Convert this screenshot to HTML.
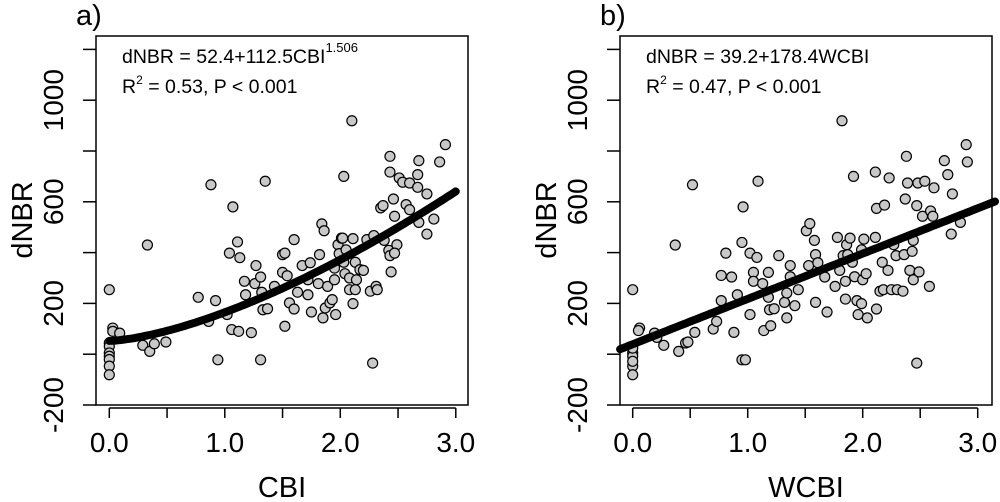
<!DOCTYPE html>
<html><head><meta charset="utf-8"><style>
html,body{margin:0;padding:0;background:#fff}
svg{display:block;font-family:"Liberation Sans",Arial,sans-serif}
</style></head><body>
<svg id="chart" width="1000" height="502"></svg>
<script>
const xTicksA=[0,0.5,1,1.5,2,2.5,3];
const xTickLabels=["0.0","1.0","2.0","3.0"];
const xTickLabelVals=[0,1,2,3];
const yTicks=[-200,0,200,400,600,800,1000,1200];
const yTickLabelVals=[-200,200,600,1000];
const cbiX=[0,0,0,0,0,0,0,0,0.03,0.03,0.09,0.29,0.35,0.39,0.49,0.33,0.77,0.88,0.92,0.86,0.94,1.02,1.06,1.12,1.04,1.11,1.13,1.07,1.23,1.17,1.18,1.27,1.26,1.31,1.32,1.33,1.37,1.35,1.31,1.43,1.50,1.52,1.50,1.54,1.56,1.52,1.60,1.60,1.63,1.67,1.72,1.74,1.72,1.75,1.81,1.82,1.84,1.86,1.85,1.87,1.89,1.91,1.93,1.95,1.96,1.95,1.98,1.99,2.01,2.03,2.03,2.02,2.05,2.04,2.08,2.08,2.10,2.11,2.13,2.11,2.13,2.14,2.17,2.20,2.23,2.26,2.28,2.31,2.32,2.29,2.35,2.37,2.38,2.42,2.43,2.44,2.43,2.43,2.46,2.47,2.49,2.47,2.51,2.54,2.60,2.57,2.60,2.67,2.67,2.68,2.68,2.75,2.75,2.81,2.86,2.91];
const cbiY=[44,31,5,-8,-21,-47,-81,254,103,90,83,35,11,41,48,430,224,667,211,129,-22,156,97,90,398,442,380,580,85,287,234,349,278,304,244,175,179,681,-22,267,392,398,322,309,202,110,178,451,244,349,234,360,293,166,278,392,513,486,143,182,267,202,215,293,156,339,431,396,457,700,362,457,411,317,300,254,919,455,362,199,254,293,333,330,451,248,-35,267,254,467,576,585,448,409,388,324,779,717,611,543,431,398,694,677,674,589,569,707,657,762,519,631,473,532,757,825];
const wcbiX=[0,0,0,0,0,0,0,0.06,0.05,0.19,0.21,0.27,0.37,0.40,0.46,0.48,0.54,0.52,0.70,0.73,0.77,0.77,0.81,0.86,0.88,0.91,0.95,0.96,0.95,0.98,1.02,1.02,1.05,1.05,1.08,1.09,1.13,1.14,1.18,1.18,1.19,1.20,1.23,1.27,1.32,1.34,1.34,1.37,1.37,1.41,1.44,1.51,1.54,1.53,1.58,1.59,1.59,1.61,1.67,1.69,1.76,1.78,1.80,1.82,1.83,1.85,1.85,1.86,1.87,1.89,1.91,1.92,1.93,1.95,1.96,1.99,2.00,1.99,2.01,2.03,2.04,2.11,2.11,2.12,2.12,2.15,2.17,2.18,2.19,2.22,2.23,2.25,2.27,2.29,2.30,2.35,2.36,2.37,2.38,2.39,2.41,2.43,2.44,2.44,2.47,2.47,2.48,2.49,2.52,2.54,2.58,2.59,2.61,2.62,2.71,2.74,2.77,2.78,2.85,2.90,2.91];
const wcbiY=[5,-8,-47,-81,24,-28,254,103,93,83,66,35,430,11,44,48,86,667,99,129,211,310,398,304,86,234,440,580,-22,-22,398,156,322,287,381,681,278,93,322,224,175,112,179,388,204,241,143,349,305,191,254,486,514,349,448,204,392,360,304,166,267,460,330,919,388,287,217,431,392,457,362,700,305,211,156,199,293,411,453,317,143,717,460,574,178,248,362,254,587,330,694,254,431,388,254,248,392,611,779,674,330,405,448,293,585,-35,674,324,543,681,267,564,543,655,762,707,473,631,519,825,757];
const fitA=[52.4,112.5,1.506];
const fitB=[39.2,178.4];

const NS="http://www.w3.org/2000/svg";
const svg=document.getElementById('chart');
function mk(tag,attrs,parent,text){const e=document.createElementNS(NS,tag);for(const k in attrs)e.setAttribute(k,attrs[k]);if(text!==undefined)e.textContent=text;(parent||svg).appendChild(e);return e;}
const yS=v=>405-(v+200)*0.254;

function panel(p){
  const xS=v=>p.x0+v*p.ppu;
  const g=mk('g',{});
  
  
  const box=mk('rect',{x:p.left,y:36,width:p.right-p.left,height:369,fill:'none',stroke:'#000','stroke-width':1.5},g);
  
  const xa=mk('g',{},g);
  mk('line',{x1:xS(0),x2:xS(3),y1:408,y2:408,stroke:'#000','stroke-width':1.5},xa);
  xTicksA.forEach(v=>mk('line',{x1:xS(v),x2:xS(v),y1:408,y2:418,stroke:'#000','stroke-width':1.5},xa));
  xTickLabelVals.forEach((v,i)=>{const t=mk('text',{x:xS(v),y:452,'text-anchor':'middle','font-size':28},xa,xTickLabels[i]);});
  const ya=mk('g',{},g);
  yTicks.forEach(v=>mk('line',{x1:p.left-13,x2:p.left,y1:yS(v),y2:yS(v),stroke:'#000','stroke-width':1.5},ya));
  yTickLabelVals.forEach(v=>{const cx=p.left-33,cy=yS(v);const t=mk('text',{x:cx,y:cy,'text-anchor':'middle','font-size':28,transform:`rotate(-90 ${cx} ${cy})`},ya,String(v));});
  const yl=mk('text',{x:p.left-64,y:220,'text-anchor':'middle','font-size':29,transform:`rotate(-90 ${p.left-64} 220)`},g,'dNBR');
  
  const xl=mk('text',{x:(p.left+p.right)/2,y:497,'text-anchor':'middle','font-size':29},g,p.xlabel);
  
  const pl=mk('text',{x:p.left-20,y:25,'font-size':29},g,p.tag);
  
  const pts=mk('g',{},g);
  p.xs.forEach((x,i)=>{const c=mk('circle',{cx:xS(x),cy:yS(p.ys[i]),r:5,fill:'#c8c8c8',stroke:'#000','stroke-width':1.2},pts);
    
    });
  let d='';
  const xa0=p.fitFrom, xa1=p.fitTo, n=120;
  for(let i=0;i<=n;i++){const x=xa0+(xa1-xa0)*i/n;d+=(i?'L':'M')+xS(x).toFixed(1)+' '+yS(p.fit(x)).toFixed(1);}
  const fl=mk('path',{d:d,fill:'none',stroke:'#000','stroke-width':p.lw,'stroke-linecap':'round'},g);
  
  const eq=mk('text',{x:p.left+26,y:63,'font-size':19.5},g);
  
  eq.innerHTML=p.eq;
  const r2=mk('text',{x:p.left+26,y:93,'font-size':19.5},g);
  
  r2.innerHTML='R<tspan dy="-9" font-size="12">2</tspan><tspan dy="9"> = '+p.r2+', P &lt; 0.001</tspan>';
}
panel({name:'panel-a',left:96,right:468,x0:109.3,ppu:115.5,xs:cbiX,ys:cbiY,xlabel:'CBI',tag:'a)',
  fit:x=>fitA[0]+fitA[1]*Math.pow(x,fitA[2]),fitFrom:0,fitTo:3,lw:8,
  eq:'dNBR = 52.4+112.5CBI<tspan dy="-11" font-size="13">1.506</tspan>',r2:'0.53'});
panel({name:'panel-b',left:620,right:992,x0:632.7,ppu:115,xs:wcbiX,ys:wcbiY,xlabel:'WCBI',tag:'b)',
  fit:x=>fitB[0]+fitB[1]*x,fitFrom:-0.11,fitTo:3.15,lw:8,
  eq:'dNBR = 39.2+178.4WCBI',r2:'0.47'});
</script>
</body></html>
